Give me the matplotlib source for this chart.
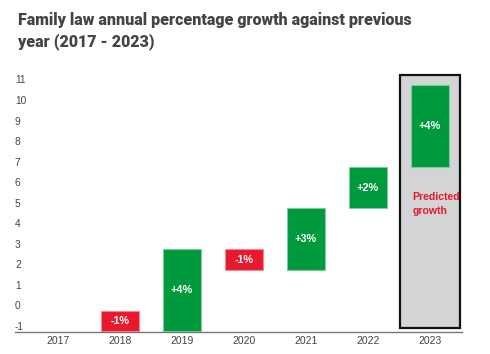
import matplotlib
matplotlib.use("Agg")
from matplotlib import pyplot as plt

# Waterfall data: year-on-year change, starting level
years = ['2017', '2018', '2019', '2020', '2021', '2022', '2023']
changes = [None, -1, 4, -1, 3, 2, 4]
labels = ['', '-1%', '+4%', '-1%', '+3%', '+2%', '+4%']
start_level = -0.28
y_ticks = [-1, 0, 1, 2, 3, 4, 5, 6, 7, 8, 9, 10, 11]

RED = '#E8192C'
GREEN = '#009A3E'
TEXT = '#444444'

fig = plt.figure(figsize=(4.9, 3.54), dpi=100)
ax = fig.add_axes([0.0306, 0.063, 0.912, 0.7298])

# Grey highlight for the predicted year
ax.bar(6, 12.32, bottom=-1.1, width=0.98, color='#D3D4D6',
       edgecolor='#111111', linewidth=1.6, zorder=1)

level = start_level
for i, (chg, lab) in enumerate(zip(changes, labels)):
    if chg is None:
        continue
    new_level = level + chg
    bottom = min(level, new_level)
    color = GREEN if chg > 0 else RED
    edge = '#7FCB9A' if chg > 0 else '#F08A92'
    ax.bar(i, abs(chg), bottom=bottom, width=0.62, color=color,
           edgecolor=edge, linewidth=0.8, zorder=2)
    ax.text(i, bottom + abs(chg) / 2, lab, ha='center', va='center',
            color='white', fontsize=7.8, fontweight='bold',
            family='Liberation Sans', zorder=3)
    level = new_level

ax.text(5.72, 5.5, 'Predicted\ngrowth', ha='left', va='top',
        color=RED, fontsize=7.6, fontweight='bold', family='Liberation Sans',
        linespacing=1.5, zorder=3)

ax.set_xlim(-0.694, 6.516)
ax.set_ylim(-1.3, 11.3)
ax.set_xticks(range(len(years)))
ax.set_xticklabels(years)
ax.set_yticks(y_ticks)
ax.set_yticklabels([str(t) for t in y_ticks])
for t in ax.get_yticklabels():
    t.set_horizontalalignment('left')
for t in ax.get_xticklabels() + ax.get_yticklabels():
    t.set_family('Liberation Sans')
ax.tick_params(axis='y', length=0, pad=0, labelsize=7.3, colors=TEXT)
ax.tick_params(axis='x', length=0, pad=3, labelsize=7.5, colors=TEXT)

for side in ['top', 'right', 'left']:
    ax.spines[side].set_visible(False)
ax.spines['bottom'].set_color('#777777')
ax.spines['bottom'].set_linewidth(1)

fig.text(18 / 490, 1 - 12 / 354,
         'Family law annual percentage growth against previous\nyear (2017 - 2023)',
         ha='left', va='top', fontsize=11.5, fontweight='heavy', color=TEXT,
         family='Roboto', linespacing=1.4)

fig.savefig('out.png', dpi=100)
